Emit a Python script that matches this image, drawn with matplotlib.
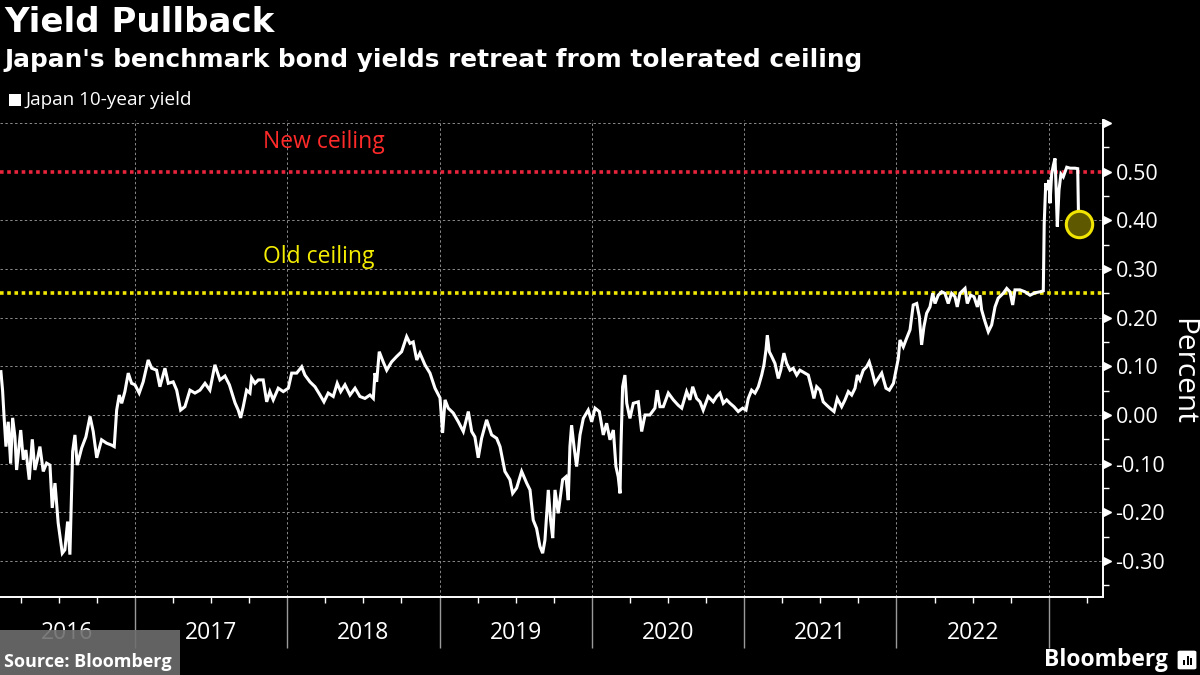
import matplotlib
matplotlib.use("Agg")
import matplotlib.pyplot as plt
import matplotlib.transforms as mtransforms
from matplotlib.patches import Rectangle, FancyBboxPatch
import numpy as np

# ---- data (decimal year, percent) ----
years = [
    2016.120, 2016.131, 2016.140, 2016.153, 2016.168, 2016.184, 2016.197, 2016.212, 2016.223, 2016.250,
    2016.267, 2016.284, 2016.306, 2016.326, 2016.343, 2016.359, 2016.376, 2016.398, 2016.420, 2016.442,
    2016.457, 2016.475, 2016.496, 2016.523, 2016.540, 2016.558, 2016.573, 2016.591, 2016.606, 2016.621,
    2016.650, 2016.678, 2016.705, 2016.726, 2016.749, 2016.781, 2016.814, 2016.847, 2016.864, 2016.880,
    2016.897, 2016.913, 2016.934, 2016.956, 2016.978, 2017.000, 2017.028, 2017.054, 2017.087, 2017.110,
    2017.142, 2017.164, 2017.197, 2017.219, 2017.251, 2017.274, 2017.300, 2017.328, 2017.361, 2017.394,
    2017.427, 2017.460, 2017.492, 2017.525, 2017.558, 2017.591, 2017.620, 2017.657, 2017.678, 2017.694,
    2017.711, 2017.733, 2017.755, 2017.766, 2017.788, 2017.810, 2017.842, 2017.865, 2017.886, 2017.908,
    2017.941, 2017.974, 2018.007, 2018.029, 2018.062, 2018.095, 2018.116, 2018.149, 2018.182, 2018.215,
    2018.241, 2018.269, 2018.302, 2018.328, 2018.351, 2018.379, 2018.412, 2018.445, 2018.477, 2018.510,
    2018.543, 2018.565, 2018.576, 2018.587, 2018.604, 2018.630, 2018.653, 2018.685, 2018.718, 2018.751,
    2018.784, 2018.806, 2018.827, 2018.850, 2018.871, 2018.904, 2018.937, 2018.970, 2019.003, 2019.020,
    2019.036, 2019.057, 2019.090, 2019.123, 2019.156, 2019.189, 2019.211, 2019.232, 2019.254, 2019.276,
    2019.309, 2019.342, 2019.375, 2019.397, 2019.429, 2019.462, 2019.480, 2019.506, 2019.539, 2019.572,
    2019.594, 2019.615, 2019.637, 2019.659, 2019.677, 2019.692, 2019.714, 2019.729, 2019.743, 2019.758,
    2019.779, 2019.808, 2019.830, 2019.845, 2019.856, 2019.867, 2019.884, 2019.900, 2019.911, 2019.922,
    2019.944, 2019.976, 2019.999, 2020.021, 2020.049, 2020.075, 2020.097, 2020.119, 2020.141, 2020.158,
    2020.173, 2020.185, 2020.191, 2020.202, 2020.217, 2020.229, 2020.250, 2020.272, 2020.305, 2020.327,
    2020.349, 2020.381, 2020.414, 2020.429, 2020.447, 2020.469, 2020.502, 2020.535, 2020.567, 2020.590,
    2020.622, 2020.644, 2020.662, 2020.688, 2020.710, 2020.731, 2020.764, 2020.797, 2020.819, 2020.841,
    2020.863, 2020.885, 2020.907, 2020.933, 2020.961, 2020.990, 2021.012, 2021.027, 2021.049, 2021.071,
    2021.093, 2021.115, 2021.130, 2021.143, 2021.152, 2021.165, 2021.181, 2021.202, 2021.224, 2021.240,
    2021.261, 2021.279, 2021.301, 2021.322, 2021.345, 2021.366, 2021.399, 2021.421, 2021.443, 2021.458,
    2021.476, 2021.498, 2021.519, 2021.542, 2021.563, 2021.590, 2021.611, 2021.640, 2021.662, 2021.684,
    2021.706, 2021.728, 2021.743, 2021.760, 2021.782, 2021.804, 2021.821, 2021.837, 2021.859, 2021.880,
    2021.903, 2021.931, 2021.953, 2021.980, 2022.012, 2022.023, 2022.045, 2022.062, 2022.089, 2022.110,
    2022.133, 2022.150, 2022.165, 2022.180, 2022.198, 2022.220, 2022.238, 2022.253, 2022.274, 2022.297,
    2022.318, 2022.340, 2022.362, 2022.384, 2022.399, 2022.417, 2022.450, 2022.465, 2022.487, 2022.509,
    2022.531, 2022.548, 2022.559, 2022.581, 2022.603, 2022.625, 2022.647, 2022.668, 2022.701, 2022.724,
    2022.745, 2022.763, 2022.778, 2022.811, 2022.844, 2022.877, 2022.909, 2022.942, 2022.964, 2022.970,
    2022.980, 2022.990, 2023.001, 2023.008, 2023.019, 2023.030, 2023.041, 2023.047, 2023.056, 2023.067,
    2023.080, 2023.095, 2023.118, 2023.140, 2023.172, 2023.190, 2023.196,
]
yield_10y = [
    0.089, 0.050, 0.000, -0.065, -0.014, -0.100, -0.006, -0.045, -0.113, -0.031,
    -0.092, -0.072, -0.133, -0.050, -0.113, -0.092, -0.065, -0.116, -0.099, -0.103,
    -0.191, -0.140, -0.222, -0.284, -0.277, -0.219, -0.287, -0.075, -0.041, -0.103,
    -0.068, -0.045, -0.003, -0.034, -0.088, -0.051, -0.058, -0.062, -0.065, 0.010,
    0.041, 0.024, 0.048, 0.086, 0.065, 0.062, 0.045, 0.068, 0.113, 0.096,
    0.092, 0.058, 0.096, 0.065, 0.068, 0.051, 0.010, 0.017, 0.051, 0.045,
    0.051, 0.065, 0.051, 0.103, 0.072, 0.080, 0.062, 0.025, 0.010, -0.006,
    0.017, 0.051, 0.045, 0.076, 0.065, 0.072, 0.072, 0.027, 0.048, 0.031,
    0.055, 0.048, 0.055, 0.086, 0.086, 0.099, 0.082, 0.068, 0.058, 0.041,
    0.027, 0.045, 0.038, 0.065, 0.048, 0.062, 0.041, 0.055, 0.038, 0.034,
    0.041, 0.034, 0.086, 0.068, 0.130, 0.109, 0.092, 0.109, 0.120, 0.130,
    0.161, 0.147, 0.150, 0.113, 0.127, 0.103, 0.086, 0.055, 0.035, -0.037,
    0.031, 0.014, 0.004, -0.014, -0.034, 0.007, -0.034, -0.045, -0.088, -0.048,
    -0.010, -0.041, -0.048, -0.065, -0.116, -0.133, -0.161, -0.150, -0.116, -0.140,
    -0.154, -0.216, -0.233, -0.270, -0.284, -0.257, -0.154, -0.216, -0.253, -0.154,
    -0.202, -0.133, -0.127, -0.175, -0.065, -0.021, -0.068, -0.106, -0.075, -0.041,
    -0.007, 0.010, -0.014, 0.014, 0.007, -0.041, -0.017, -0.051, -0.031, -0.106,
    -0.127, -0.161, -0.065, 0.058, 0.082, 0.024, -0.007, 0.024, 0.027, -0.034,
    0.000, 0.000, 0.014, 0.051, 0.017, 0.017, 0.045, 0.031, 0.020, 0.014,
    0.048, 0.031, 0.058, 0.034, 0.027, 0.010, 0.038, 0.027, 0.038, 0.045,
    0.024, 0.031, 0.024, 0.017, 0.007, 0.014, 0.010, 0.034, 0.051, 0.045,
    0.058, 0.082, 0.103, 0.133, 0.164, 0.130, 0.120, 0.106, 0.075, 0.092,
    0.127, 0.106, 0.092, 0.096, 0.082, 0.092, 0.086, 0.082, 0.055, 0.034,
    0.058, 0.051, 0.027, 0.020, 0.014, 0.007, 0.034, 0.017, 0.031, 0.048,
    0.041, 0.055, 0.082, 0.072, 0.092, 0.099, 0.109, 0.092, 0.065, 0.075,
    0.086, 0.055, 0.051, 0.065, 0.116, 0.154, 0.140, 0.154, 0.175, 0.226,
    0.229, 0.202, 0.144, 0.181, 0.209, 0.222, 0.250, 0.229, 0.246, 0.253,
    0.250, 0.229, 0.250, 0.243, 0.222, 0.250, 0.260, 0.229, 0.246, 0.243,
    0.222, 0.246, 0.216, 0.192, 0.171, 0.185, 0.222, 0.240, 0.250, 0.260,
    0.253, 0.226, 0.257, 0.257, 0.253, 0.246, 0.251, 0.253, 0.255, 0.393,
    0.476, 0.462, 0.483, 0.435, 0.495, 0.513, 0.527, 0.476, 0.387, 0.462,
    0.495, 0.489, 0.509, 0.507, 0.507, 0.506, 0.393,
]
new_ceiling = 0.50
old_ceiling = 0.25
y_ticks = [-0.30, -0.20, -0.10, 0.00, 0.10, 0.20, 0.30, 0.40, 0.50]
year_labels = ["2016", "2017", "2018", "2019", "2020", "2021", "2022"]

# ---- styling ----
FONT = ["Open Sans", "DejaVu Sans"]
plt.rcParams["font.family"] = FONT
BG = "black"
W, H = 1200, 675
fig = plt.figure(figsize=(W / 100, H / 100), dpi=100, facecolor=BG)

def fx(px):
    return px / W

def fy(py):
    return 1 - py / H

ax_left, ax_right, ax_top, ax_bottom = 0, 1103, 120, 597
ax = fig.add_axes([fx(ax_left), fy(ax_bottom), fx(ax_right - ax_left), (ax_bottom - ax_top) / H])
ax.set_facecolor(BG)

xmin, xmax = 2016.114, 2023.356
ymin, ymax = -0.374, 0.606
ax.set_xlim(xmin, xmax)
ax.set_ylim(ymin, ymax)

# gridlines
grid_kw = dict(color="#8a8a8a", lw=0.7, linestyle=(0, (2.5, 2.5)), zorder=1)
for yv in [-0.3, -0.2, -0.1, 0.0, 0.1, 0.2, 0.3, 0.4, 0.6]:
    ax.axhline(yv, **grid_kw)
for yr in range(2017, 2024):
    ax.axvline(yr, **grid_kw)

# ceilings
ax.axhline(new_ceiling, color="#e8243c", lw=2.6, linestyle=(0, (1, 1)), zorder=2)
ax.axhline(old_ceiling, color="#f0e800", lw=2.6, linestyle=(0, (1, 1)), zorder=2)
ax.text(2017.840, 0.561, "New ceiling", color="#ff2a2a", fontsize=16.5, va="center", ha="left")
ax.text(2017.840, 0.324, "Old ceiling", color="#f5ee00", fontsize=16.5, va="center", ha="left")

# series
ax.plot(years, yield_10y, color="white", lw=2.2, zorder=3, solid_joinstyle="miter")
ax.plot([years[-1]], [yield_10y[-1]], marker="o", ms=19, mfc="#5e5800", mec="#f0e400",
        mew=2.2, zorder=4, clip_on=False)

# spines
for s in ["top", "left"]:
    ax.spines[s].set_visible(False)
ax.spines["bottom"].set_color("white")
ax.spines["bottom"].set_linewidth(1.4)
ax.spines["right"].set_color("white")
ax.spines["right"].set_linewidth(1.4)

# y axis on right
ax.yaxis.tick_right()
ax.set_yticks(y_ticks)
ax.set_yticklabels(["%.2f" % v for v in y_ticks])
ax.set_yticks(np.arange(-0.35, 0.60, 0.10), minor=True)
ax.tick_params(axis="y", which="major", length=0, pad=9, labelcolor="white", labelsize=15.5)
ax.tick_params(axis="y", which="minor", length=4, width=1, color="white", direction="out")
tri_tr = mtransforms.offset_copy(mtransforms.blended_transform_factory(ax.transAxes, ax.transData),
                                 fig=fig, x=3, y=0, units="points")
tri_y = y_ticks + [0.60]
ax.plot([1.0] * len(tri_y), tri_y, linestyle="none", marker=">", ms=6, color="white",
        transform=tri_tr, clip_on=False)
fig.text(fx(1183), fy(371), "Percent", rotation=270, color="white", fontsize=21.5,
         ha="center", va="center")

# x axis
ax.set_xticks(list(range(2017, 2024)))
ax.set_xticklabels([])
q_ticks = [y + q for y in range(2016, 2024) for q in (0.25, 0.5, 0.75)]
q_ticks = [t for t in q_ticks if xmin < t < xmax]
ax.set_xticks(q_ticks, minor=True)
ax.tick_params(axis="x", which="major", length=37, width=1, color="#9a9a9a", direction="out")
ax.tick_params(axis="x", which="minor", length=4, width=1, color="white", direction="out")

lab_tr = mtransforms.blended_transform_factory(ax.transData, fig.transFigure)
centers = [(xmin + 2017) / 2] + [y + 0.5 for y in range(2017, 2023)]
for c, lab in zip(centers, year_labels):
    ax.text(c, fy(633), lab, transform=lab_tr, color="white", fontsize=16.5,
            ha="center", va="center", clip_on=False)

# titles
fig.text(fx(4), fy(22), "Yield Pullback", color="white", fontsize=24.5, fontweight="bold",
         ha="left", va="center", family=["DejaVu Sans"])
fig.text(fx(4), fy(60), "Japan's benchmark bond yields retreat from tolerated ceiling",
         color="white", fontsize=17.8, fontweight="bold", ha="left", va="center",
         family=["DejaVu Sans"])
fig.patches.append(Rectangle((fx(9), fy(106)), fx(12), 12 / H, transform=fig.transFigure,
                             facecolor="white", edgecolor="none"))
fig.text(fx(25), fy(100), "Japan 10-year yield", color="white", fontsize=13.6,
         ha="left", va="center")

# footer
fig.patches.append(Rectangle((0, 0), fx(180), 45 / H, transform=fig.transFigure,
                             facecolor="#6e6e6e", edgecolor="none", alpha=0.9))
fig.text(fx(4), fy(662), "Source: Bloomberg", color="white", fontsize=13, fontweight="bold",
         ha="left", va="center")
fig.text(fx(1168), fy(660), "Bloomberg", color="white", fontsize=16.5, fontweight="bold",
         ha="right", va="center")
fig.patches.append(FancyBboxPatch((fx(1180), fy(668)), fx(14), 16 / H, transform=fig.transFigure,
                                  boxstyle="round,pad=0.002", facecolor="white", edgecolor="none"))
for i, hgt in enumerate([5, 9, 7]):
    fig.patches.append(Rectangle((fx(1183 + i * 3.5), fy(665)), fx(2), hgt / H,
                                 transform=fig.transFigure, facecolor="black", edgecolor="none"))

fig.savefig("out.png", dpi=100, facecolor=BG)
